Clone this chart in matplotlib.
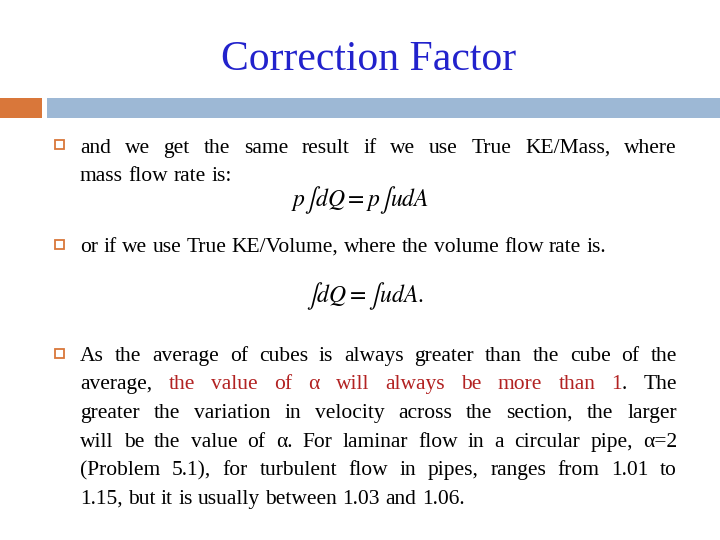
import matplotlib
matplotlib.use("Agg")
import matplotlib.pyplot as plt
from matplotlib.patches import Rectangle

plt.rcParams['mathtext.fontset'] = 'stix'
FONT = 'Liberation Serif'
RED = '#B22222'
K = 'black'

title = "Correction Factor"
# each line: (tokens, justify, baseline_y); token = (text, color, glue_to_previous)
def words(s, c=K):
    return [(w, c, False) for w in s.split()]

lines = [
    (words("and we get the same result if we use True KE/Mass, where"), True, 153),
    (words("mass flow rate is:"), False, 181),
    (words("or if we use True KE/Volume, where the volume flow rate is."), False, 252),
    (words("As the average of cubes is always greater than the cube of the"), True, 361),
    (words("average,") + words("the value of α will always be more than 1", RED) + [(".", K, True)] + words("The"), True, 389),
    (words("greater the variation in velocity across the section, the larger"), True, 418),
    (words("will be the value of α. For laminar flow in a circular pipe, α=2"), True, 447),
    (words("(Problem 5.1), for turbulent flow in pipes, ranges from 1.01 to"), True, 475),
    (words("1.15, but it is usually between 1.03 and 1.06."), False, 504),
]
bullet_y = [145, 245, 354]
equations = [(r"$p\int dQ = p\int udA$", 360, 200), (r"$\int dQ = \int udA.$", 365, 296)]

fig = plt.figure(figsize=(7.2, 5.4), dpi=100)
ax = fig.add_axes([0, 0, 1, 1])
ax.set_xlim(0, 720); ax.set_ylim(540, 0); ax.axis('off')

ax.text(369, 60, title, fontsize=30, family=FONT, color='#2222CC', ha='center', va='center')
ax.add_patch(Rectangle((0, 98), 42, 20, color='#D9773A', lw=0))
ax.add_patch(Rectangle((47, 98), 673, 20, color='#9DB8D5', lw=0))
for by in bullet_y:
    ax.add_patch(Rectangle((55, by - 5), 9, 9, fill=False, ec='#D9773A', lw=1.3))

fig.canvas.draw()
r = fig.canvas.get_renderer()
inv = ax.transData.inverted()
FS = 15.5
L, R = 80, 677

def width(s):
    t = ax.text(0, 0, s, fontsize=FS, family=FONT)
    bb = t.get_window_extent(r)
    t.remove()
    p0 = inv.transform((bb.x0, bb.y0)); p1 = inv.transform((bb.x1, bb.y0))
    return p1[0] - p0[0]

space = width("a b") - width("ab")
for toks, just, y in lines:
    ws = [width(t[0]) for t in toks]
    ngaps = sum(1 for t in toks[1:] if not t[2])
    gap = (R - L - sum(ws)) / ngaps if (just and ngaps) else space
    x = L
    for i, (t, w) in enumerate(zip(toks, ws)):
        if i > 0 and not t[2]:
            x += gap
        ax.text(x, y, t[0], fontsize=FS, family=FONT, color=t[1], va='baseline', ha='left')
        x += w

for eq, x, y in equations:
    ax.text(x, y, eq, fontsize=17, ha='center', va='center')

fig.savefig("out.png", dpi=100)
